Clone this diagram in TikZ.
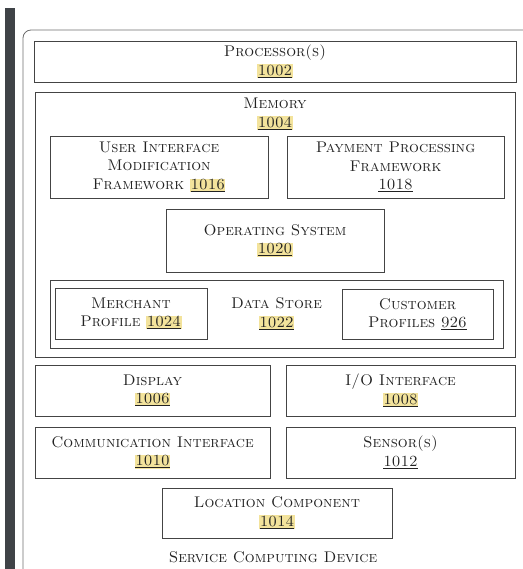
\documentclass[tikz,border=0pt]{standalone}
\usepackage{xcolor}
\usetikzlibrary{positioning}
\definecolor{boxgray}{HTML}{444444}
\definecolor{framegray}{HTML}{6E6E6E}
\definecolor{bargray}{HTML}{3F4347}
\definecolor{hilite}{HTML}{F3E39C}
\definecolor{inkgray}{HTML}{222222}
\newcommand{\hlno}[1]{{\setlength{\fboxsep}{0.5pt}\colorbox{hilite}{\underline{#1}}}}
\newcommand{\plno}[1]{\underline{#1}}
\tikzset{
    blk/.style={draw=boxgray, line width=0.9pt, align=center, inner sep=0pt,
        text=inkgray, font=\fontsize{15.5}{18.5}\selectfont\scshape},
    lbl/.style={align=center, inner sep=0pt, text=inkgray,
        font=\fontsize{15.5}{18.5}\selectfont\scshape},
    outer/.style={draw=framegray, line width=0.8pt, rounded corners=8pt}
}

\begin{document}
\begin{tikzpicture}[x=1pt,y=-1pt]
                \useasboundingbox (0,0) rectangle (522,569);
                % side bar and device frame
                \fill[bargray] (5,8) rectangle (15,569);
                \draw[outer] (23,600) -- (23,30) -- (560,30);
                % top level blocks
                \node[blk, minimum width=482pt, minimum height=41pt] (proc) at (275,61.5) {Processor(s)\\\hlno{1002}};
                \node[blk, minimum width=480pt, minimum height=265pt] (mem) at (275,224.5) {};
                \node[lbl] (memlbl) at (275,114) {Memory\\\hlno{1004}};
                % memory contents
                \node[blk, minimum width=218pt, minimum height=62pt] (uimod) at (159,167) {User Interface\\Modification\\Framework \hlno{1016}};
                \node[blk, minimum width=217pt, minimum height=62pt] (pay) at (395.5,167) {Payment Processing\\Framework\\\plno{1018}};
                \node[blk, minimum width=218pt, minimum height=63pt] (os) at (275,240.5) {Operating System\\\hlno{1020}};
                \node[blk, minimum width=453pt, minimum height=68pt] (store) at (276.5,314) {};
                \node[lbl] (storelbl) at (276.5,314) {Data Store\\\hlno{1022}};
                \node[blk, minimum width=152pt, minimum height=51pt] (merch) at (131,313.5) {Merchant\\Profile \hlno{1024}};
                \node[blk, minimum width=151pt, minimum height=50pt] (cust) at (417.5,314) {Customer\\Profiles \plno{926}};
                % lower blocks
                \node[blk, minimum width=235pt, minimum height=51pt] (disp) at (152.5,390.5) {Display\\\hlno{1006}};
                \node[blk, minimum width=229pt, minimum height=51pt] (io) at (400.5,390.5) {I/O Interface\\\hlno{1008}};
                \node[blk, minimum width=235pt, minimum height=51pt] (comm) at (152.5,452.5) {Communication Interface\\\hlno{1010}};
                \node[blk, minimum width=229pt, minimum height=51pt] (sens) at (400.5,452.5) {Sensor(s)\\\plno{1012}};
                \node[blk, minimum width=230pt, minimum height=50pt] (loc) at (277,513) {Location Component\\\hlno{1014}};
                \node[lbl] (dev) at (273,557) {Service Computing Device};
\end{tikzpicture}
\end{document}
